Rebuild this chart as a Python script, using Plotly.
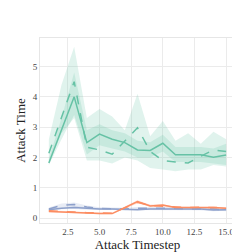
import plotly.graph_objects as go

steps = list(range(1, 16))

green_solid = [1.82, 2.9, 4.0, 2.49, 2.77, 2.6, 2.49, 2.25, 2.23, 2.47, 2.09, 2.09, 2.09, 2.01, 2.08]
green_solid_lo = [1.75, 2.6, 3.4, 2.1, 2.4, 2.3, 2.2, 2.0, 2.0, 2.2, 1.85, 1.85, 1.85, 1.8, 1.75]
green_solid_hi = [1.95, 3.3, 4.8, 2.9, 3.1, 2.9, 2.8, 2.55, 2.5, 2.75, 2.35, 2.35, 2.35, 2.3, 2.45]

green_dash = [2.14, 3.3, 4.5, 2.34, 2.25, 2.11, 2.55, 2.98, 2.2, 1.9, 1.85, 1.82, 2.04, 2.25, 2.2]
green_dash_lo = [1.8, 2.8, 3.3, 1.9, 1.9, 1.8, 2.0, 1.9, 1.65, 1.6, 1.55, 1.6, 1.6, 1.75, 1.7]
green_dash_hi = [2.6, 4.4, 5.65, 3.3, 3.6, 3.35, 2.9, 4.1, 2.7, 3.2, 2.55, 2.8, 2.45, 2.85, 2.6]

orange_solid = [0.22, 0.2, 0.2, 0.17, 0.15, 0.15, 0.35, 0.55, 0.4, 0.43, 0.35, 0.36, 0.35, 0.35, 0.33]
orange_solid_lo = [0.2, 0.18, 0.18, 0.15, 0.13, 0.13, 0.32, 0.5, 0.37, 0.4, 0.33, 0.34, 0.33, 0.33, 0.31]
orange_solid_hi = [0.24, 0.22, 0.22, 0.19, 0.17, 0.17, 0.38, 0.6, 0.43, 0.46, 0.37, 0.38, 0.37, 0.37, 0.35]

orange_dash = [0.24, 0.21, 0.2, 0.18, 0.16, 0.16, 0.34, 0.52, 0.42, 0.4, 0.36, 0.35, 0.36, 0.34, 0.34]
orange_dash_lo = [0.22, 0.19, 0.18, 0.16, 0.14, 0.14, 0.31, 0.48, 0.39, 0.37, 0.34, 0.33, 0.34, 0.32, 0.32]
orange_dash_hi = [0.26, 0.23, 0.22, 0.2, 0.18, 0.18, 0.37, 0.56, 0.45, 0.43, 0.38, 0.37, 0.38, 0.36, 0.36]

blue_solid = [0.28, 0.33, 0.35, 0.32, 0.3, 0.3, 0.28, 0.28, 0.3, 0.3, 0.3, 0.3, 0.3, 0.27, 0.28]
blue_solid_lo = [0.24, 0.29, 0.3, 0.28, 0.27, 0.27, 0.25, 0.25, 0.26, 0.26, 0.26, 0.26, 0.26, 0.23, 0.24]
blue_solid_hi = [0.32, 0.37, 0.4, 0.36, 0.33, 0.33, 0.31, 0.31, 0.34, 0.34, 0.34, 0.34, 0.34, 0.31, 0.32]

blue_dash = [0.3, 0.42, 0.45, 0.37, 0.32, 0.3, 0.3, 0.33, 0.33, 0.32, 0.32, 0.3, 0.3, 0.3, 0.27]
blue_dash_lo = [0.25, 0.36, 0.38, 0.32, 0.28, 0.26, 0.26, 0.29, 0.29, 0.28, 0.28, 0.26, 0.26, 0.26, 0.23]
blue_dash_hi = [0.35, 0.48, 0.52, 0.42, 0.36, 0.34, 0.34, 0.37, 0.37, 0.36, 0.36, 0.34, 0.34, 0.34, 0.31]

x_ticks = [2.5, 5.0, 7.5, 10.0, 12.5, 15.0]
y_ticks = [0, 1, 2, 3, 4, 5]

GREEN = "#66c2a5"
ORANGE = "#fc8d62"
BLUE = "#8da0cb"

def rgba(hexc, a):
    h = hexc.lstrip("#")
    return "rgba(%d,%d,%d,%s)" % (int(h[0:2], 16), int(h[2:4], 16), int(h[4:6], 16), a)

fig = go.Figure()

series = [
    (green_solid, green_solid_lo, green_solid_hi, GREEN, "solid"),
    (green_dash, green_dash_lo, green_dash_hi, GREEN, "dash"),
    (blue_solid, blue_solid_lo, blue_solid_hi, BLUE, "solid"),
    (blue_dash, blue_dash_lo, blue_dash_hi, BLUE, "dash"),
    (orange_solid, orange_solid_lo, orange_solid_hi, ORANGE, "solid"),
    (orange_dash, orange_dash_lo, orange_dash_hi, ORANGE, "dash"),
]

for mean, lo, hi, col, dash in series:
    fig.add_trace(go.Scatter(
        x=steps + steps[::-1], y=hi + lo[::-1], fill="toself",
        fillcolor=rgba(col, 0.2), line=dict(width=0), mode="lines",
        hoverinfo="skip", showlegend=False))

for mean, lo, hi, col, dash in series:
    fig.add_trace(go.Scatter(
        x=steps, y=mean, mode="lines",
        line=dict(color=col, width=1.5, dash=dash), showlegend=False))

fig.update_layout(
    width=240, height=252,
    margin=dict(l=32, r=12, t=30, b=32),
    paper_bgcolor="white", plot_bgcolor="white",
    font=dict(family="Liberation Serif", color="#333333"),
    showlegend=False,
)
fig.update_xaxes(
    range=[0.3, 15.7], tickvals=x_ticks, ticktext=["%.1f" % v for v in x_ticks],
    showgrid=True, gridcolor="#ebebeb", gridwidth=1, zeroline=False,
    showline=True, linecolor="#e6e6e6", mirror=True, ticks="",
    tickfont=dict(size=9, color="#444444"),
    title=dict(text="Attack Timestep", font=dict(size=13, color="#222222"), standoff=2),
)
fig.update_yaxes(
    range=[-0.16, 5.94], tickvals=y_ticks, ticktext=[str(v) for v in y_ticks],
    showgrid=True, gridcolor="#ebebeb", gridwidth=1, zeroline=False,
    showline=True, linecolor="#e6e6e6", mirror=True, ticks="",
    tickfont=dict(size=9, color="#444444"),
    title=dict(text="Attack Time", font=dict(size=13, color="#222222"), standoff=4),
)

fig.write_html("out.html")
